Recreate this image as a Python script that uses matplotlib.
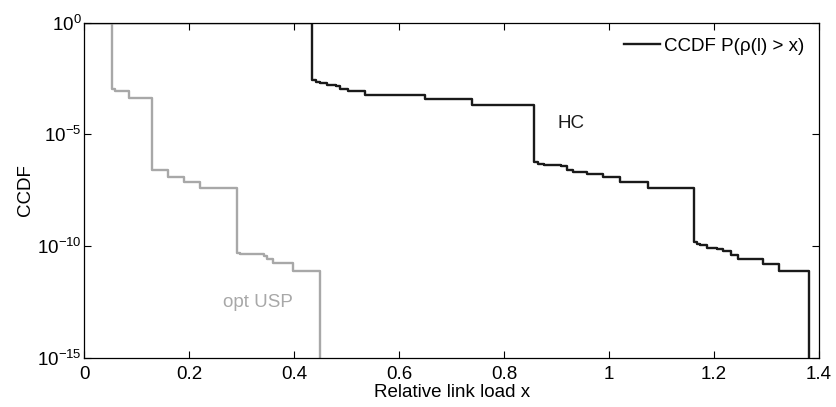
import numpy as np
import matplotlib
matplotlib.use('Agg')
import matplotlib.pyplot as plt

plt.rcParams['font.family'] = ['Liberation Sans', 'DejaVu Sans']
plt.rcParams['mathtext.fontset'] = 'custom'
plt.rcParams['mathtext.rm'] = 'Liberation Sans'
plt.rcParams['mathtext.it'] = 'Liberation Sans:italic'

# opt USP curve (step, value holds after each x), log10 of CCDF
usp_x = [0.0, 0.053, 0.058, 0.085, 0.129, 0.133, 0.159, 0.190, 0.220, 0.291,
         0.296, 0.342, 0.348, 0.359, 0.398, 0.449]
usp_log = [0.0, -2.98, -3.06, -3.39, -6.57, -6.60, -6.92, -7.12, -7.40, -10.30,
           -10.37, -10.45, -10.57, -10.75, -11.12, -20.0]

# HC curve
hc_x = [0.0, 0.433, 0.441, 0.449, 0.462, 0.479, 0.487, 0.502, 0.535, 0.650,
        0.738, 0.857, 0.864, 0.876, 0.909, 0.919, 0.931, 0.957, 0.989, 1.020,
        1.074, 1.161, 1.167, 1.173, 1.186, 1.205, 1.217, 1.233, 1.246, 1.293,
        1.324, 1.381]
hc_log = [0.0, -2.57, -2.66, -2.71, -2.78, -2.82, -2.96, -3.06, -3.22, -3.40,
          -3.70, -6.24, -6.33, -6.36, -6.42, -6.57, -6.70, -6.79, -6.92, -7.12,
          -7.40, -9.81, -9.91, -9.97, -10.10, -10.15, -10.24, -10.39, -10.60, -10.78,
          -11.11, -20.0]

fs = 13.5

fig = plt.figure(figsize=(8.36, 4.07), dpi=100)
ax = fig.add_axes([0.1008, 0.121, 0.879, 0.823])

hc_y = 10.0 ** np.array(hc_log)
usp_y = 10.0 ** np.array(usp_log)

ax.step(hc_x, hc_y, where='post', color='#1a1a1a', lw=1.7, label='CCDF P(ρ(l) > x)')
ax.step(usp_x, usp_y, where='post', color='#a8a8a8', lw=1.7)

ax.set_yscale('log')
ax.set_xlim(0, 1.4)
ax.set_ylim(1e-15, 1)
ax.set_yticks([1e-15, 1e-10, 1e-5, 1])
ax.set_yticklabels([r'$10^{-15}$', r'$10^{-10}$', r'$10^{-5}$', r'$10^{0}$'])
ax.yaxis.set_minor_locator(matplotlib.ticker.NullLocator())
ax.set_xticks(np.arange(0, 1.41, 0.2))
ax.set_xticklabels(['0', '0.2', '0.4', '0.6', '0.8', '1', '1.2', '1.4'])
ax.tick_params(direction='in', top=True, right=True, labelsize=fs, length=5, width=0.8)
ax.tick_params(axis='y', pad=2)
ax.tick_params(axis='x', pad=6)
for s in ax.spines.values():
    s.set_linewidth(0.9)

ax.set_xlabel('Relative link load x', fontsize=fs, labelpad=1)
ax.set_ylabel('CCDF', fontsize=fs, labelpad=2)

ax.text(0.902, 10 ** -4.49, 'HC', fontsize=fs, color='#1a1a1a', va='center')
ax.text(0.264, 10 ** -12.54, 'opt USP', fontsize=fs, color='#a8a8a8', va='center')

ax.legend(loc='upper right', frameon=False, fontsize=fs, handlelength=1.9,
          handletextpad=0.2, borderaxespad=0.4)

fig.savefig('out.png', dpi=100)
